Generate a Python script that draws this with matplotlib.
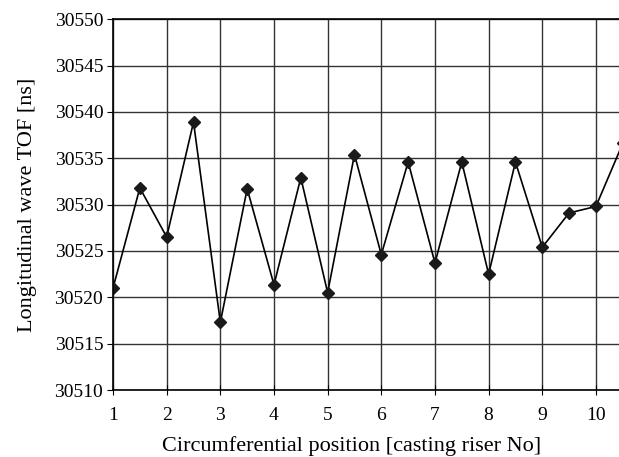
import matplotlib.pyplot as plt

position = [1, 1.5, 2, 2.5, 3, 3.5, 4, 4.5, 5, 5.5,
            6, 6.5, 7, 7.5, 8, 8.5, 9, 9.5, 10, 10.5]
tof = [30521.0, 30531.8, 30526.5, 30538.9, 30517.3, 30531.7, 30521.35, 30532.9, 30520.5, 30535.4,
       30524.6, 30534.6, 30523.7, 30534.6, 30522.5, 30534.6, 30525.4, 30529.1, 30529.8, 30536.6]
xticks = [1, 2, 3, 4, 5, 6, 7, 8, 9, 10]
yticks = [30510, 30515, 30520, 30525, 30530, 30535, 30540, 30545, 30550]

plt.rcParams['font.family'] = ['Liberation Serif', 'DejaVu Serif']

fig = plt.figure(figsize=(6.19, 4.57), dpi=100)
ax = fig.add_axes([0.1826, 0.1466, 0.8174, 0.8114])

ax.plot(position, tof, color='black', lw=1.2, marker='D', markersize=6.5,
        markerfacecolor='#1a1a1a', markeredgecolor='#1a1a1a')

ax.set_xlim(1, 10.43)
ax.set_ylim(30510, 30550)
ax.set_xticks(xticks)
ax.set_yticks(yticks)
ax.grid(True, color='#333333', lw=1)
ax.set_axisbelow(True)

ax.tick_params(axis='y', direction='out', length=4, width=0.8, labelsize=14, pad=3)
ax.tick_params(axis='x', direction='inout', length=7, width=0.8, labelsize=14, pad=9)
for s in ax.spines.values():
    s.set_linewidth(1.2)
ax.spines['right'].set_visible(False)

ax.set_xlabel("Circumferential position [casting riser No]", fontsize=16)
ax.set_ylabel("Longitudinal wave TOF [ns]", fontsize=16)
ax.xaxis.set_label_coords(0.472, -0.124)
ax.yaxis.set_label_coords(-0.150, 0.5)

fig.savefig("out.png", dpi=100)
